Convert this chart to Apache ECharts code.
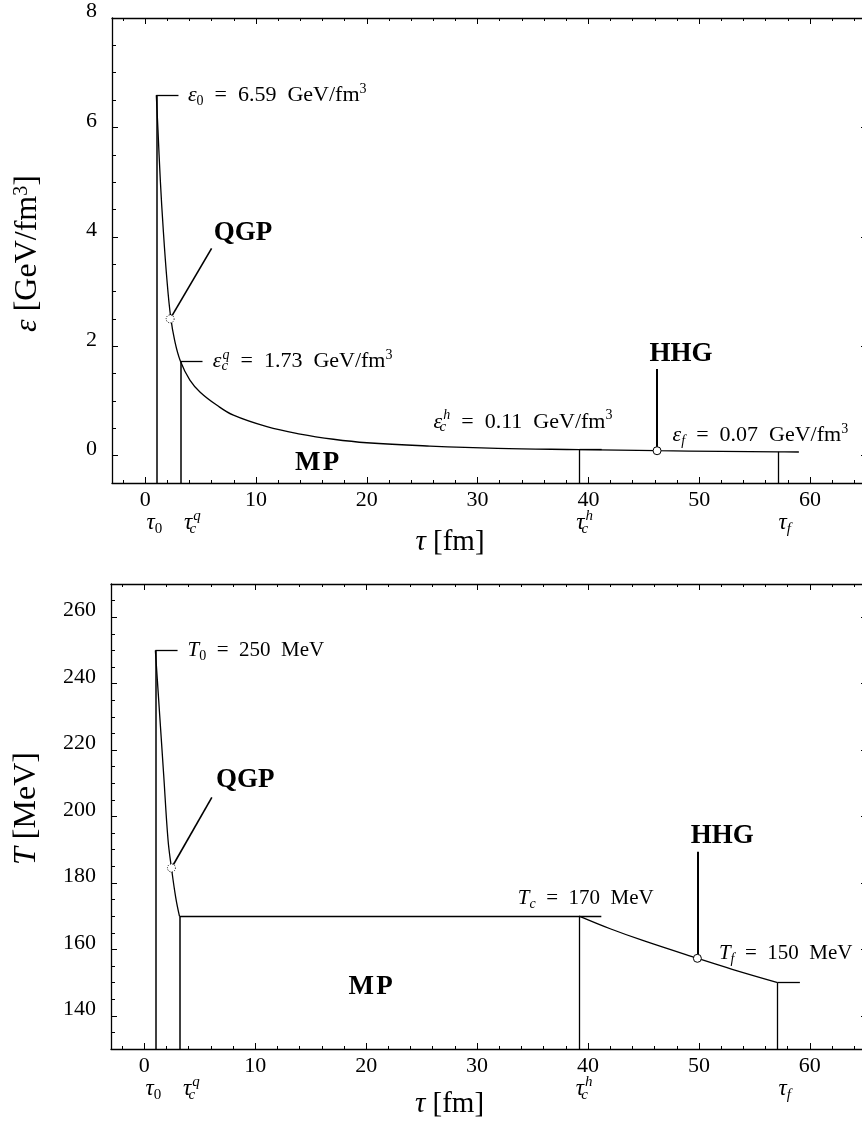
<!DOCTYPE html>
<html><head><meta charset="utf-8">
<script src="https://cdn.jsdelivr.net/npm/echarts@6/dist/echarts.min.js"></script>
<style>html,body{margin:0;padding:0;background:#fff}#c{width:862px;height:1126px}</style>
</head><body><div id="c"></div>
<script>
// ---------------- data ----------------
const xMajorTicks = [0, 10, 20, 30, 40, 50, 60];
const xMinorTicks = [-2, 2, 4, 6, 8, 12, 14, 16, 18, 22, 24, 26, 28, 32, 34, 36, 38, 42, 44, 46, 48, 52, 54, 56, 58, 62, 64];
const epsMajorTicks = [0, 2, 4, 6, 8];
const epsMinorTicks = [0.5, 1, 1.5, 2.5, 3, 3.5, 4.5, 5, 5.5, 6.5, 7, 7.5];
const tempMajorTicks = [140, 160, 180, 200, 220, 240, 260];
const tempMinorTicks = [135, 145, 150, 155, 165, 170, 175, 185, 190, 195, 205, 210, 215, 225, 230, 235, 245, 250, 255, 265];

// characteristic times [fm]: tau0, tau_c^q, tau_c^h, tau_f
const tauMarks = [1, 3.17, 39.2, 57.1];
const tauLabels = ['{t|τ}{s|0}', '{t|τ}{sz|c}{p|q}', '{t|τ}{sz|c}{p|h}', '{t|τ}{si|f}'];
// energy density at those times [GeV/fm^3]
const epsMarks = [6.59, 1.73, 0.11, 0.07];
// temperature at those times [MeV]
const tempMarks = [250, 170, 170, 150];

// energy density curve
const epsTau = [1, 1.15, 1.36, 1.63, 1.96, 2.29, 2.65, 3.17, 4.03, 4.96, 6.48, 7.96, 10.98, 13.99, 16.99, 20.0, 25.7, 31.8, 39.2, 46.2, 52.0, 57.1, 59.0];
const epsVal = [6.59, 5.95, 5.04, 4.12, 3.21, 2.54, 2.11, 1.73, 1.38, 1.16, 0.92, 0.74, 0.53, 0.395, 0.30, 0.236, 0.175, 0.133, 0.11, 0.09, 0.078, 0.07, 0.067];

// temperature curve: QGP phase and hadron gas phase
const tempTauQGP = [1, 1.39, 1.75, 2.14, 2.45, 2.84, 3.17];
const tempQGP = [250, 230.5, 212.5, 193, 184.5, 175.5, 170];
const tempTauHad = [39.2, 42.0, 45.0, 49.86, 53.0, 57.1];
const tempHad = [170, 166.2, 162.6, 157.3, 154.0, 150];

// marked points (QGP, HHG)
const epsQGPPoint = [2.25, 2.5];
const epsHHGPoint = [46.2, 0.09];
const tempQGPPoint = [2.45, 184.5];
const tempHHGPoint = [49.86, 157.3];

// ---------------- styling ----------------
const SERIF = '"Liberation Serif", "DejaVu Serif", serif';
const BLACK = '#000';
function makeAnnRich(af, sf) {
  return {
    i: {fontFamily: SERIF, fontStyle: 'italic', fontSize: af, lineHeight: 26, color: BLACK},
    n: {fontFamily: SERIF, fontSize: af, lineHeight: 26, color: BLACK},
    sb: {fontFamily: SERIF, fontSize: sf, lineHeight: 14, verticalAlign: 'bottom', color: BLACK},
    sbi: {fontFamily: SERIF, fontStyle: 'italic', fontSize: sf, lineHeight: 14, verticalAlign: 'bottom', color: BLACK},
    sz: {fontFamily: SERIF, fontStyle: 'italic', fontSize: sf, lineHeight: 14, verticalAlign: 'bottom', width: 1, color: BLACK},
    sp: {fontFamily: SERIF, fontSize: sf, lineHeight: 14, verticalAlign: 'top', color: BLACK},
    spi: {fontFamily: SERIF, fontStyle: 'italic', fontSize: sf, lineHeight: 14, verticalAlign: 'top', color: BLACK},
    b: {fontFamily: SERIF, fontWeight: 'bold', fontSize: 27, lineHeight: 30, color: BLACK},
    t: {fontFamily: SERIF, fontStyle: 'italic', fontSize: 23, lineHeight: 28, color: BLACK},
    s: {fontFamily: SERIF, fontSize: 15, lineHeight: 14, verticalAlign: 'bottom', color: BLACK},
    p: {fontFamily: SERIF, fontStyle: 'italic', fontSize: 15, lineHeight: 14, verticalAlign: 'top', color: BLACK}
  };
}
const epsRich = makeAnnRich(22, 14);
const tempRich = makeAnnRich(21, 14);
function tauRich(r) {
  return Object.assign({}, r, {
    si: {fontFamily: SERIF, fontStyle: 'italic', fontSize: 15, lineHeight: 14, verticalAlign: 'bottom', color: BLACK},
    sz: {fontFamily: SERIF, fontStyle: 'italic', fontSize: 15, lineHeight: 14, verticalAlign: 'bottom', width: 1, color: BLACK}
  });
}
function nameRich(fs) {
  return {
    i: {fontFamily: SERIF, fontStyle: 'italic', fontSize: fs, color: BLACK},
    n: {fontFamily: SERIF, fontSize: fs, color: BLACK},
    sp: {fontFamily: SERIF, fontSize: Math.round(fs * 0.62), verticalAlign: 'top', lineHeight: 18, color: BLACK}
  };
}

const X_MIN = -3, X_MAX = 65.15;

function xAxes(g, nameStr, nameGap) {
  const base = {type: 'value', gridIndex: g, min: X_MIN, max: X_MAX, splitLine: {show: false}};
  return [
    Object.assign({}, base, {
      position: 'bottom',
      axisLine: {show: true, onZero: false, lineStyle: {color: BLACK, width: 1.3}},
      axisTick: {show: true, inside: true, length: 6, customValues: xMajorTicks, lineStyle: {color: BLACK, width: 1}},
      axisLabel: {show: true, customValues: xMajorTicks, margin: 6, fontFamily: SERIF, fontSize: 22, color: BLACK},
      name: nameStr, nameLocation: 'middle', nameGap: nameGap,
      nameTextStyle: {rich: nameRich(29), padding: [0, 79, 0, 0]}
    }),
    Object.assign({}, base, {
      position: 'bottom',
      axisLine: {show: false, onZero: false},
      axisTick: {show: true, inside: true, length: 3, customValues: xMinorTicks, lineStyle: {color: BLACK, width: 1}},
      axisLabel: {show: false}
    }),
    Object.assign({}, base, {
      position: 'top',
      axisLine: {show: true, onZero: false, lineStyle: {color: BLACK, width: 1.3}},
      axisTick: {show: true, inside: true, length: 6, customValues: xMajorTicks, lineStyle: {color: BLACK, width: 1}},
      axisLabel: {show: false}
    }),
    Object.assign({}, base, {
      position: 'top',
      axisLine: {show: false, onZero: false},
      axisTick: {show: true, inside: true, length: 3, customValues: xMinorTicks, lineStyle: {color: BLACK, width: 1}},
      axisLabel: {show: false}
    })
  ];
}

function yAxes(g, min, max, major, minor, nameStr, namePad) {
  const base = {type: 'value', gridIndex: g, min: min, max: max, splitLine: {show: false}};
  return [
    Object.assign({}, base, {
      position: 'left',
      axisLine: {show: true, onZero: false, lineStyle: {color: BLACK, width: 1.3}},
      axisTick: {show: true, inside: true, length: 6, customValues: major, lineStyle: {color: BLACK, width: 1}},
      axisLabel: {show: true, customValues: major, margin: 15, fontFamily: SERIF, fontSize: 22, color: BLACK,
                  verticalAlign: 'bottom', lineHeight: 13},
      name: nameStr, nameLocation: 'middle', nameGap: 68, nameRotate: 90,
      nameTextStyle: {rich: nameRich(32), padding: namePad}
    }),
    Object.assign({}, base, {
      position: 'left',
      axisLine: {show: false, onZero: false},
      axisTick: {show: true, inside: true, length: 4, customValues: minor, lineStyle: {color: BLACK, width: 1}},
      axisLabel: {show: false}
    }),
    Object.assign({}, base, {
      position: 'right',
      axisLine: {show: true, onZero: false, lineStyle: {color: BLACK, width: 1.3}},
      axisTick: {show: true, inside: true, length: 6, customValues: major, lineStyle: {color: BLACK, width: 1}},
      axisLabel: {show: false}
    }),
    Object.assign({}, base, {
      position: 'right',
      axisLine: {show: false, onZero: false},
      axisTick: {show: true, inside: true, length: 4, customValues: minor, lineStyle: {color: BLACK, width: 1}},
      axisLabel: {show: false}
    })
  ];
}

function seg(a, b, w) {
  return [{coord: a, lineStyle: {width: w || 1.3}}, {coord: b}];
}

function pointSeries(xi, yi, pt, dotted) {
  return {
    type: 'scatter', xAxisIndex: xi, yAxisIndex: yi, silent: true, z: 5,
    symbol: 'circle', symbolSize: 8,
    itemStyle: {color: '#fff', borderColor: BLACK, borderWidth: 1, borderType: dotted ? [1, 1.4] : 'solid', opacity: 1},
    data: [pt]
  };
}

function textSeries(xi, yi, items, rich) {
  return {
    type: 'scatter', xAxisIndex: xi, yAxisIndex: yi, silent: true, z: 6, clip: false,
    symbol: 'circle', symbolSize: 0.01, itemStyle: {color: BLACK, opacity: 1},
    label: {show: true, rich: rich, color: BLACK, opacity: 1, textBorderWidth: 0},
    data: items.map(function (it) {
      return {value: it.at, label: {formatter: it.text, position: it.pos || 'inside', distance: 0,
              offset: it.off || [0, 0], color: BLACK, opacity: 1, textBorderWidth: 0, rich: rich}};
    })
  };
}

// tau labels under the axis, anchored at each characteristic time
const tauLabelShift = [-2, 12, 5, 7];
function tauItems(yMin) {
  return tauMarks.map(function (t, k) {
    return {at: [t, yMin], text: tauLabels[k], off: [tauLabelShift[k], 40]};
  });
}

const EPS_MIN = -0.5, EPS_MAX = 8, T_MIN = 130, T_MAX = 270;

// x axes: panel 0 -> 0..3, panel 1 -> 4..7 ; y axes: panel 0 -> 0..3, panel 1 -> 4..7
const series = [];

// ---- panel 1: energy density ----
series.push({
  type: 'line', xAxisIndex: 0, yAxisIndex: 0, silent: true, showSymbol: false, symbol: 'none',
  smooth: 0.4,
  lineStyle: {color: BLACK, width: 1.3},
  data: epsTau.map(function (t, i) { return [t, epsVal[i]]; }),
  markLine: {
    silent: true, symbol: 'none', animation: false,
    lineStyle: {color: BLACK, type: 'solid', width: 1.3},
    label: {show: false},
    data: [
      seg([tauMarks[0], EPS_MIN], [tauMarks[0], epsMarks[0]], 1.5),
      seg([tauMarks[1], EPS_MIN], [tauMarks[1], epsMarks[1]], 1.5),
      seg([tauMarks[2], EPS_MIN], [tauMarks[2], epsMarks[2]], 1.3),
      seg([tauMarks[3], EPS_MIN], [tauMarks[3], epsMarks[3]], 1.3),
      seg([tauMarks[0], epsMarks[0]], [tauMarks[0] + 2, epsMarks[0]], 1.3),
      seg([tauMarks[1], epsMarks[1]], [tauMarks[1] + 2, epsMarks[1]], 1.3),
      seg([tauMarks[2], epsMarks[2]], [tauMarks[2] + 2, epsMarks[2]], 1.3),
      seg(epsQGPPoint, [5.99, 3.79], 1.6),
      seg(epsHHGPoint, [epsHHGPoint[0], 1.585], 2)
    ]
  }
});
series.push(pointSeries(0, 0, epsQGPPoint, true));
series.push(pointSeries(0, 0, epsHHGPoint, false));
series.push(textSeries(0, 0, [
  {at: [3.85, epsMarks[0]], pos: 'right', text: '{i|ε}{sb|0}{n|  =  6.59  GeV/fm}{sp|3}'},
  {at: [6.1, epsMarks[1]], pos: 'right', text: '{i|ε}{sz|c}{spi|q}{n|  =  1.73  GeV/fm}{sp|3}'},
  {at: [34.1, 0.62], text: '{i|ε}{sz|c}{spi|h}{n|  =  0.11  GeV/fm}{sp|3}'},
  {at: [47.6, 0.38], pos: 'right', text: '{i|ε}{sbi|f}{n|  =  0.07  GeV/fm}{sp|3}'},
  {at: [8.83, 4.07], text: '{b|QGP}'},
  {at: [48.36, 1.86], text: '{b|HHG}'},
  {at: [15.52, -0.13], text: '{b|M\u200aP}'}
].concat(tauItems(EPS_MIN)), tauRich(epsRich)));

// ---- panel 2: temperature ----
series.push({
  type: 'line', xAxisIndex: 4, yAxisIndex: 4, silent: true, showSymbol: false, symbol: 'none',
  smooth: 0.4,
  lineStyle: {color: BLACK, width: 1.3},
  data: tempTauQGP.map(function (t, i) { return [t, tempQGP[i]]; })
});
series.push({
  type: 'line', xAxisIndex: 4, yAxisIndex: 4, silent: true, showSymbol: false, symbol: 'none',
  smooth: 0.4,
  lineStyle: {color: BLACK, width: 1.3},
  data: tempTauHad.map(function (t, i) { return [t, tempHad[i]]; }),
  markLine: {
    silent: true, symbol: 'none', animation: false,
    lineStyle: {color: BLACK, type: 'solid', width: 1.3},
    label: {show: false},
    data: [
      seg([tauMarks[0], T_MIN], [tauMarks[0], tempMarks[0]], 1.5),
      seg([tauMarks[1], T_MIN], [tauMarks[1], tempMarks[1]], 1.5),
      seg([tauMarks[2], T_MIN], [tauMarks[2], tempMarks[2]], 1.3),
      seg([tauMarks[3], T_MIN], [tauMarks[3], tempMarks[3]], 1.3),
      seg([tauMarks[0], tempMarks[0]], [tauMarks[0] + 2, tempMarks[0]], 1.3),
      seg([tauMarks[1], tempMarks[1]], [tauMarks[2] + 2, tempMarks[2]], 1.3),
      seg([tauMarks[3], tempMarks[3]], [tauMarks[3] + 2, tempMarks[3]], 1.3),
      seg(tempQGPPoint, [6.09, 205.75], 1.6),
      seg(tempHHGPoint, [tempHHGPoint[0], 189.4], 2)
    ]
  }
});
series.push(pointSeries(4, 4, tempQGPPoint, true));
series.push(pointSeries(4, 4, tempHHGPoint, false));
series.push(textSeries(4, 4, [
  {at: [3.9, tempMarks[0]], pos: 'right', text: '{i|T}{sb|0}{n|  =  250  MeV}'},
  {at: [39.8, 175.4], text: '{i|T}{sbi|c}{n|  =  170  MeV}'},
  {at: [51.8, 158.9], pos: 'right', text: '{i|T}{sbi|f}{n|  =  150  MeV}'},
  {at: [9.1, 211], text: '{b|QGP}'},
  {at: [52.1, 194.1], text: '{b|HHG}'},
  {at: [20.4, 148.75], text: '{b|M\u200aP}'}
].concat(tauItems(T_MIN)), tauRich(tempRich)));

const option = {
  backgroundColor: '#fff',
  animation: false,
  grid: [
    {left: 112, top: 18, width: 755, height: 465, containLabel: false, outerBoundsMode: 'none'},
    {left: 111, top: 584, width: 756, height: 465, containLabel: false, outerBoundsMode: 'none'}
  ],
  xAxis: xAxes(0, '{i|τ}{n| [fm]}', 45).concat(xAxes(1, '{i|τ}{n| [fm]}', 41)),
  yAxis: yAxes(0, EPS_MIN, EPS_MAX, epsMajorTicks, epsMinorTicks, '{i|ε}{n| [GeV/fm}{sp|3}{n|]}', [0, 6, 0, 0])
    .concat(yAxes(1, T_MIN, T_MAX, tempMajorTicks, tempMinorTicks, '{i|T}{n| [MeV]}', [0, 0, 0, 16])),
  series: series
};

const chart = echarts.init(document.getElementById('c'), null, {renderer: 'canvas'});
chart.setOption(option);
</script>
</body></html>
